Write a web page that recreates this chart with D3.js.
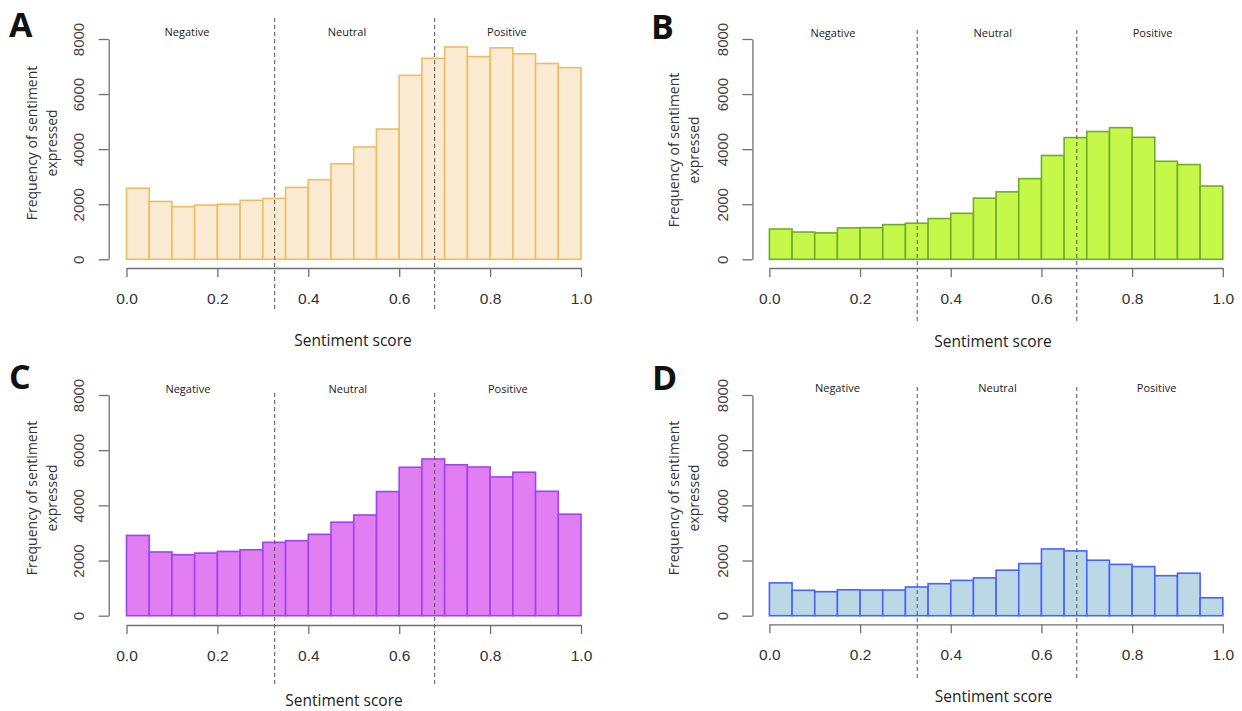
<!DOCTYPE html>
<html>
<head>
<meta charset="utf-8">
<script src="https://cdn.jsdelivr.net/npm/d3@7"></script>
<style>
  body { margin: 0; background: #fff; }
  svg { display: block; }
</style>
</head>
<body>
<script>
// data
const binEdges = [0, 0.05, 0.1, 0.15, 0.2, 0.25, 0.3, 0.35, 0.4, 0.45, 0.5,
                  0.55, 0.6, 0.65, 0.7, 0.75, 0.8, 0.85, 0.9, 0.95, 1.0];
const xTicks = [0, 0.2, 0.4, 0.6, 0.8, 1.0];
const yTicks = [0, 2000, 4000, 6000, 8000];
const sectionLabels = ["Negative", "Neutral", "Positive"];
const cutPoints = [0.326, 0.678];

const freqA = [2580, 2100, 1910, 1970, 2000, 2140, 2210, 2610, 2890, 3470,
               4080, 4730, 6680, 7300, 7710, 7360, 7680, 7460, 7110, 6960];
const freqB = [1100, 990, 960, 1140, 1150, 1260, 1310, 1480, 1670, 2220,
               2450, 2930, 3770, 4420, 4640, 4780, 4430, 3560, 3440, 2660];
const freqC = [2910, 2310, 2210, 2270, 2330, 2390, 2660, 2720, 2950, 3390,
               3650, 4500, 5380, 5680, 5470, 5390, 5030, 5200, 4510, 3680];
const freqD = [1190, 920, 870, 940, 930, 930, 1040, 1160, 1280, 1370,
               1650, 1890, 2420, 2350, 2010, 1860, 1780, 1450, 1540, 650];

const width = 1242;
const height = 711;

const svg = d3.select("body")
    .append("svg")
    .attr("width", width)
    .attr("height", height);

// layout of each panel (pixels)
const panels = [
  { letter: "A", data: freqA, fill: "#fbebd3", stroke: "#f2bb62",
    x0: 126.5, x1: 581, axisX: 108.7, yTop: 39, yBot: 259.3, xAxisY: 268,
    dash: [18, 312], catY: 31, catX: [0.133, 0.485, 0.837],
    titleX: 353, titleY: 340, yTitleX: [31, 51], yTitleCY: 143, letterPos: [9, 37] },
  { letter: "B", data: freqB, fill: "#c6f84a", stroke: "#6fae2a",
    x0: 769.4, x1: 1222.8, axisX: 752.4, yTop: 39, yBot: 259.3, xAxisY: 268,
    dash: [30, 323], catY: 32, catX: [0.140, 0.4925, 0.845],
    titleX: 993, titleY: 341, yTitleX: [673, 693], yTitleCY: 150, letterPos: [651, 39] },
  { letter: "C", data: freqC, fill: "#e07ef2", stroke: "#a043f2",
    x0: 126.5, x1: 581, axisX: 108.7, yTop: 395, yBot: 615.7, xAxisY: 625,
    dash: [393, 685], catY: 388.3, catX: [0.135, 0.487, 0.839],
    titleX: 344, titleY: 699.5, yTitleX: [31, 51], yTitleCY: 498, letterPos: [9, 389] },
  { letter: "D", data: freqD, fill: "#bcd8e4", stroke: "#4a62ff",
    x0: 769.4, x1: 1222.8, axisX: 752.4, yTop: 395, yBot: 615.7, xAxisY: 624.3,
    dash: [387, 678], catY: 387.7, catX: [0.150, 0.503, 0.854],
    titleX: 993.5, titleY: 696, yTitleX: [673, 693], yTitleCY: 498, letterPos: [652, 390] }
];

const labelFont = "'Open Sans', 'Noto Sans', sans-serif";
const tickFont = "'Liberation Sans', Arial, sans-serif";

function drawPanel(p) {
  const g = svg.append("g");

  const x = d3.scaleLinear().domain([0, 1]).range([p.x0, p.x1]);
  const y = d3.scaleLinear().domain([0, 8000]).range([p.yBot, p.yTop]);

  // bars
  g.append("g")
    .selectAll("rect")
    .data(p.data)
    .enter().append("rect")
    .attr("x", (d, i) => x(binEdges[i]))
    .attr("width", (d, i) => x(binEdges[i + 1]) - x(binEdges[i]))
    .attr("y", d => y(d))
    .attr("height", d => y(0) - y(d))
    .attr("fill", p.fill)
    .attr("stroke", p.stroke)
    .attr("stroke-width", 1.6);

  // y axis
  const yAxis = g.append("g")
    .attr("transform", `translate(${p.axisX},0)`)
    .call(d3.axisLeft(y).tickValues(yTicks).tickSize(10).tickSizeOuter(0).tickFormat(d3.format("d")));
  yAxis.select(".domain").attr("stroke", "#707070").attr("stroke-width", 1.3);
  yAxis.selectAll(".tick line").attr("stroke", "#707070").attr("stroke-width", 1.3);
  yAxis.selectAll(".tick text")
    .attr("x", null).attr("dy", null)
    .attr("transform", "translate(-30,0) rotate(-90)")
    .attr("text-anchor", "middle")
    .attr("dominant-baseline", "central")
    .style("font-family", tickFont)
    .style("font-size", "15px")
    .attr("fill", "#444");

  // x axis
  const xAxis = g.append("g")
    .attr("transform", `translate(0,${p.xAxisY})`)
    .call(d3.axisBottom(x).tickValues(xTicks).tickSize(9).tickSizeOuter(0).tickFormat(d3.format(".1f")));
  xAxis.select(".domain").attr("stroke", "#707070").attr("stroke-width", 1.3);
  xAxis.selectAll(".tick line").attr("stroke", "#707070").attr("stroke-width", 1.3);
  xAxis.selectAll(".tick text")
    .attr("y", 30).attr("dy", null)
    .attr("dominant-baseline", "central")
    .style("font-family", tickFont)
    .style("font-size", "15.5px")
    .attr("fill", "#333");

  // dashed cut lines on top of bars
  g.append("g")
    .selectAll("line")
    .data(cutPoints)
    .enter().append("line")
    .attr("x1", d => x(d)).attr("x2", d => x(d))
    .attr("y1", p.dash[0]).attr("y2", p.dash[1])
    .attr("stroke", "#555")
    .attr("stroke-width", 1)
    .attr("stroke-dasharray", "4,3");

  // section names
  g.append("g")
    .selectAll("text")
    .data(sectionLabels)
    .enter().append("text")
    .attr("x", (d, i) => x(p.catX[i]))
    .attr("y", p.catY)
    .attr("text-anchor", "middle")
    .attr("dominant-baseline", "central")
    .style("font-family", labelFont)
    .style("font-size", "11px")
    .attr("fill", "#222")
    .text(d => d);

  // axis titles
  g.append("text")
    .attr("x", p.titleX).attr("y", p.titleY)
    .attr("text-anchor", "middle")
    .attr("dominant-baseline", "central")
    .style("font-family", labelFont)
    .style("font-size", "15.5px")
    .attr("fill", "#222")
    .text("Sentiment score");

  ["Frequency of sentiment", "expressed"].forEach((t, i) => {
    g.append("text")
      .attr("transform", `translate(${p.yTitleX[i]},${p.yTitleCY}) rotate(-90)`)
      .attr("text-anchor", "middle")
      .attr("dominant-baseline", "central")
      .style("font-family", labelFont)
      .style("font-size", "14px")
      .attr("fill", "#333")
      .text(t);
  });

  // panel letter
  g.append("text")
    .attr("x", p.letterPos[0]).attr("y", p.letterPos[1])
    .style("font-family", labelFont)
    .style("font-weight", "bold")
    .style("font-size", "34px")
    .attr("fill", "#111")
    .text(p.letter);
}

panels.forEach(drawPanel);
</script>
</body>
</html>
